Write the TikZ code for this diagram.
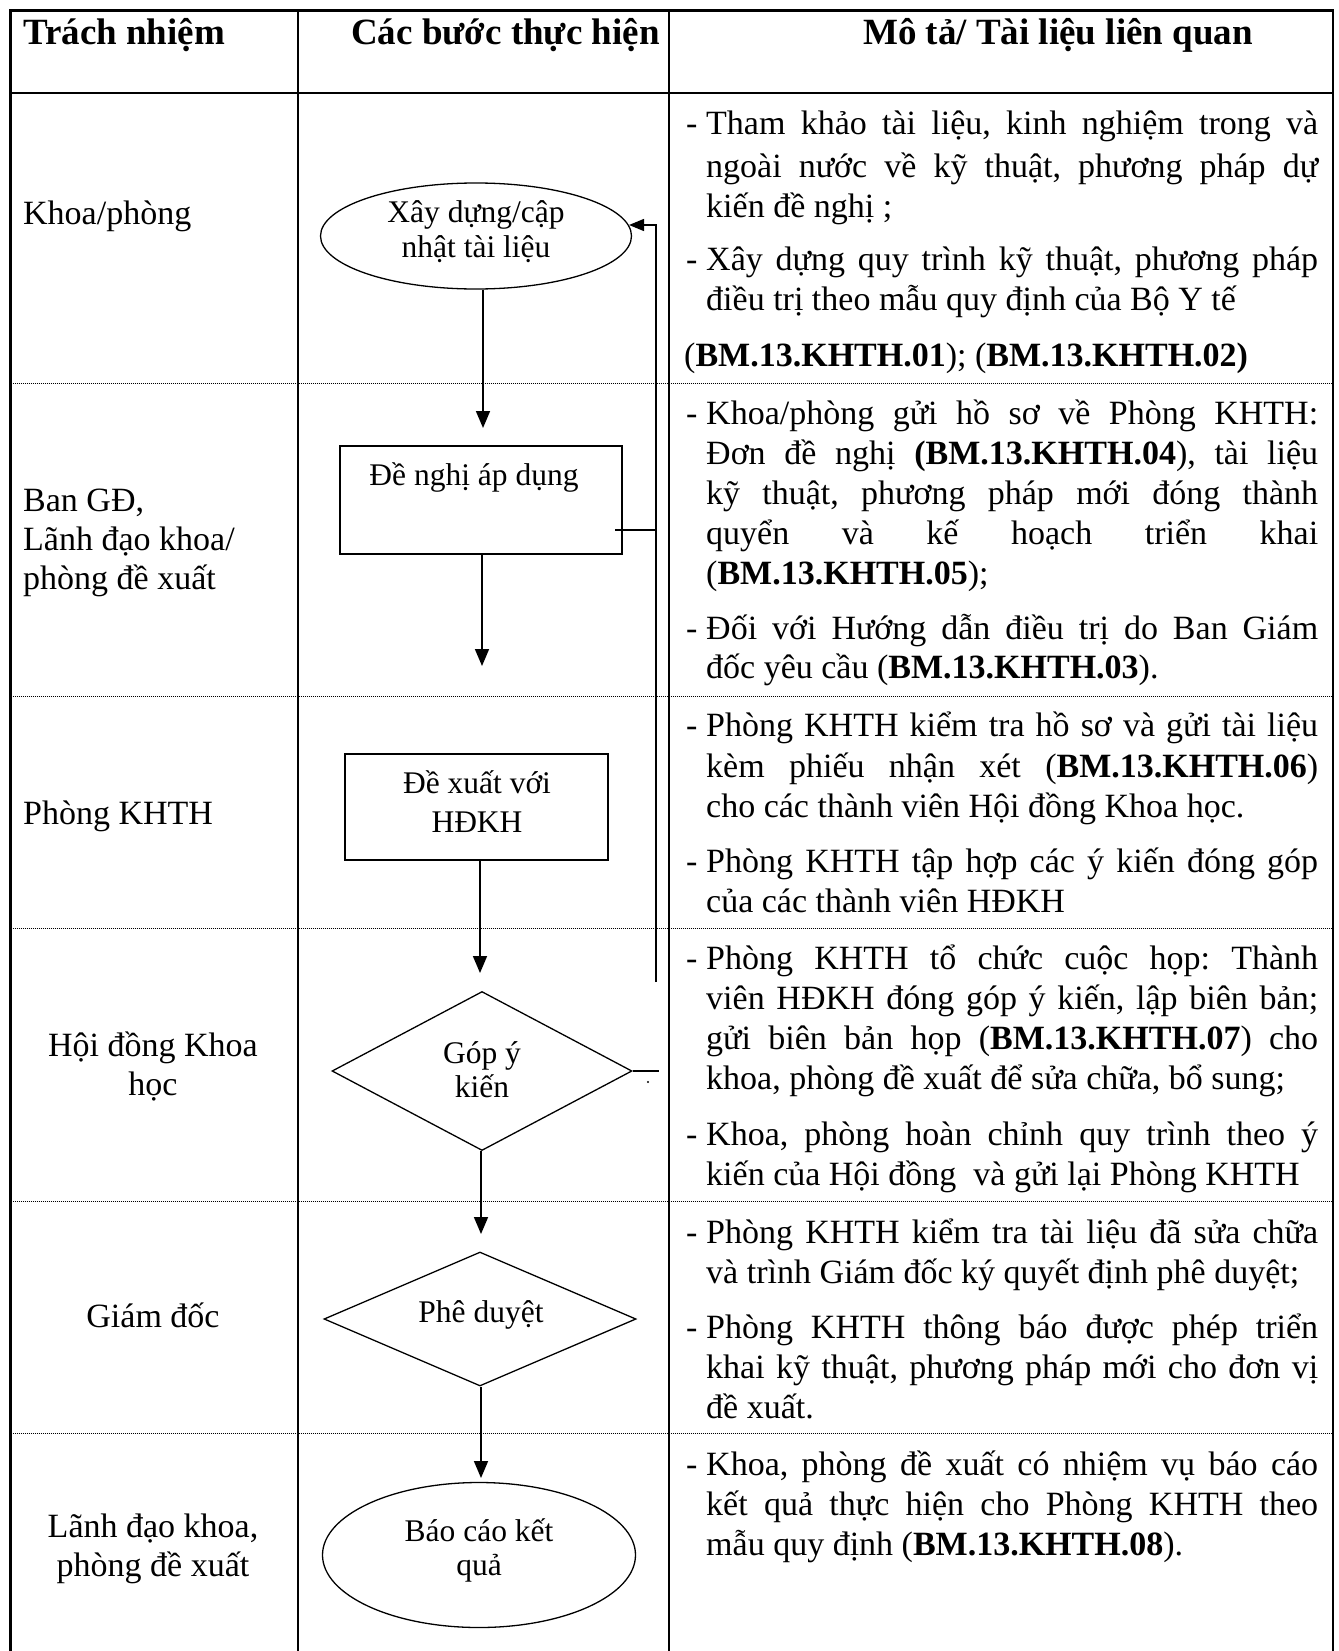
\documentclass[tikz,border=0pt]{standalone}
\usepackage{fontspec}
\setmainfont{Liberation Serif}
\usetikzlibrary{arrows.meta,shapes.geometric}
\frenchspacing
\newcommand{\bodyfnt}{\fontsize{34pt}{40pt}\selectfont}
\newcommand{\shpfnt}{\fontsize{31.5pt}{36pt}\selectfont}
\newcommand{\headfnt}{\fontsize{37pt}{42pt}\selectfont\bfseries}
\newcommand{\jst}[1]{\makebox[612pt][s]{#1}}
\newcommand{\rl}[3]{\node[rt] (#1) at (706,#2) {#3};}
\newcommand{\dsh}[2]{\node[rt] (#1) at (686,#2) {-};}
\begin{document}
\begin{tikzpicture}[x=1pt,y=-1pt,
  rt/.style={anchor=base west,inner sep=0pt,font=\bodyfnt},
  ct/.style={anchor=base,inner sep=0pt,font=\bodyfnt},
  st/.style={anchor=base,inner sep=0pt,font=\shpfnt},
  hd/.style={anchor=base west,inner sep=0pt,font=\headfnt},
  shp/.style={draw,line width=1.3pt,inner sep=0pt},
  flow/.style={line width=1.7pt,-{Triangle[length=17pt,width=14pt]}},
  back/.style={line width=1.3pt},
  tableline/.style={line width=2.3pt},
  rowsep/.style={line width=0.9pt,dash pattern=on 1pt off 1pt}
]
\useasboundingbox (0,0) rectangle (1338,1651);
% table
\draw[tableline] (10.5,1651) -- (10.5,10.5) -- (1333,10.5) -- (1333,1651);
\draw[tableline] (298,10.5) -- (298,1651);
\draw[tableline] (669,10.5) -- (669,1651);
\draw[tableline] (10.5,93) -- (1333,93);
\foreach \yy in {383,696,928,1201,1433} \draw[rowsep] (10.5,\yy) -- (1333,\yy);
% headers
\node[hd] (h1) at (23,45) {Trách nhiệm};
\node[hd] (h2) at (351,45) {Các bước thực hiện};
\node[hd] (h3) at (863,45) {Mô tả/ Tài liệu liên quan};
% left column
\node[rt] (l1) at (23,224) {Khoa/phòng};
\node[rt] (l2a) at (23,511) {Ban GĐ,};
\node[rt] (l2b) at (23,550) {Lãnh đạo khoa/};
\node[rt] (l2c) at (23,589) {phòng đề xuất};
\node[rt] (l3) at (23,824) {Phòng KHTH};
\node[ct] (l4a) at (153,1056) {Hội đồng Khoa};
\node[ct] (l4b) at (153,1095) {học};
\node[ct] (l5) at (153,1327) {Giám đốc};
\node[ct] (l6a) at (153,1537) {Lãnh đạo khoa,};
\node[ct] (l6b) at (153,1576) {phòng đề xuất};
% shapes
\node[shp,ellipse,minimum width=311pt,minimum height=106pt] (e1) at (476,236) {};
\node[st] (e1t) at (476,222) {Xây dựng/cập};
\node[st] (e1u) at (476,257) {nhật tài liệu};
\node[shp,rectangle,minimum width=282pt,minimum height=108pt] (b2) at (481,500) {};
\node[st] (b2t) at (474,485) {Đề nghị áp dụng};
\node[shp,rectangle,minimum width=263pt,minimum height=106pt] (b3) at (476.5,807) {};
\node[st] (b3t) at (477,793) {Đề xuất với};
\node[st] (b3u) at (477,832) {HĐKH};
\node[shp,diamond,minimum width=300pt,minimum height=159pt] (d1) at (482,1071) {};
\node[st] (d1t) at (482,1063) {Góp ý};
\node[st] (d1u) at (482,1097) {kiến};
\node[shp,diamond,minimum width=312pt,minimum height=134pt] (d2) at (480,1319) {};
\node[st] (d2t) at (481,1322) {Phê duyệt};
\node[shp,ellipse,minimum width=313pt,minimum height=145pt] (e2) at (479,1555) {};
\node[st] (e2t) at (479,1541) {Báo cáo kết};
\node[st] (e2u) at (479,1575) {quả};
% arrows
\coordinate (a1) at (483,428);
\coordinate (a2) at (482,666);
\coordinate (a3) at (480,973);
\coordinate (a4) at (481,1234);
\coordinate (a5) at (481,1478);
\draw[flow] (e1.south -| a1) -- (a1);
\draw[flow] (b2.south -| a2) -- (a2);
\draw[flow] (b3.south -| a3) -- (a3);
\draw[flow] (d1.south -| a4) -- (a4);
\draw[flow] (d2.south -| a5) -- (a5);
% feedback
\coordinate (fbtop) at (656,225);
\coordinate (fbbot) at (656,982);
\coordinate (fbtip) at (629,225);
\coordinate (s1) at (615,530);
\draw[back,-{Triangle[length=15pt,width=12pt]}] (fbbot) -- (fbtop) -- (fbtip);
\draw[back] (s1) -- (s1 -| fbtop);
\draw[back] (d1.east) -- ++(26,0);
\fill (648,1082) circle (1.1pt);
% right column
\dsh{m1}{135}\rl{r1a}{135}{\jst{Tham khảo tài liệu, kinh nghiệm trong và}}
\rl{r1b}{177}{\jst{ngoài nước về kỹ thuật, phương pháp dự}}
\rl{r1c}{217}{kiến đề nghị ;}
\dsh{m2}{270}\rl{r1d}{270}{\jst{Xây dựng quy trình kỹ thuật, phương pháp}}
\rl{r1e}{310}{điều trị theo mẫu quy định của Bộ Y tế}
\node[rt] (r1f) at (684,366) {(\textbf{BM.13.KHTH.01}); (\textbf{BM.13.KHTH.02)}};
\dsh{m3}{424}\rl{r2a}{424}{\jst{Khoa/phòng gửi hồ sơ về Phòng KHTH:}}
\rl{r2b}{464}{\jst{Đơn đề nghị \textbf{(BM.13.KHTH.04}), tài liệu}}
\rl{r2c}{504}{\jst{kỹ thuật, phương pháp mới đóng thành}}
\rl{r2d}{544}{\jst{quyển và kế hoạch triển khai}}
\rl{r2e}{584}{(\textbf{BM.13.KHTH.05});}
\dsh{m4}{639}\rl{r2f}{639}{\jst{Đối với Hướng dẫn điều trị do Ban Giám}}
\rl{r2g}{678}{đốc yêu cầu (\textbf{BM.13.KHTH.03}).}
\dsh{m5}{736}\rl{r3a}{736}{\jst{Phòng KHTH kiểm tra hồ sơ và gửi tài liệu}}
\rl{r3b}{777}{\jst{kèm phiếu nhận xét (\textbf{BM.13.KHTH.06})}}
\rl{r3c}{817}{cho các thành viên Hội đồng Khoa học.}
\dsh{m6}{872}\rl{r3d}{872}{\jst{Phòng KHTH tập hợp các ý kiến đóng góp}}
\rl{r3e}{912}{của các thành viên HĐKH}
\dsh{m7}{969}\rl{r4a}{969}{\jst{Phòng KHTH tổ chức cuộc họp: Thành}}
\rl{r4b}{1009}{\jst{viên HĐKH đóng góp ý kiến, lập biên bản;}}
\rl{r4c}{1049}{\jst{gửi biên bản họp (\textbf{BM.13.KHTH.07}) cho}}
\rl{r4d}{1089}{khoa, phòng đề xuất để sửa chữa, bổ sung;}
\dsh{m8}{1145}\rl{r4e}{1145}{\jst{Khoa, phòng hoàn chỉnh quy trình theo ý}}
\rl{r4f}{1185}{kiến của Hội đồng\ \ và gửi lại Phòng KHTH}
\dsh{m9}{1243}\rl{r5a}{1243}{\jst{Phòng KHTH kiểm tra tài liệu đã sửa chữa}}
\rl{r5b}{1283}{và trình Giám đốc ký quyết định phê duyệt;}
\dsh{m10}{1338}\rl{r5c}{1338}{\jst{Phòng KHTH thông báo được phép triển}}
\rl{r5d}{1378}{\jst{khai kỹ thuật, phương pháp mới cho đơn vị}}
\rl{r5e}{1418}{đề xuất.}
\dsh{m11}{1475}\rl{r6a}{1475}{\jst{Khoa, phòng đề xuất có nhiệm vụ báo cáo}}
\rl{r6b}{1515}{\jst{kết quả thực hiện cho Phòng KHTH theo}}
\rl{r6c}{1555}{mẫu quy định (\textbf{BM.13.KHTH.08}).}
\end{tikzpicture}
\end{document}
